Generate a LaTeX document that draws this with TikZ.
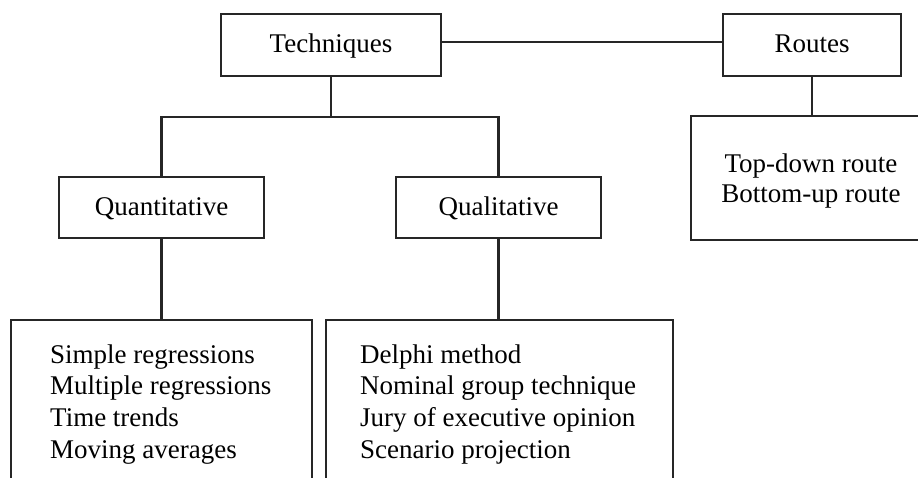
\documentclass[tikz,border=0pt]{standalone}
\usepackage{fontspec}
\setmainfont{Liberation Serif}
\begin{document}
\begin{tikzpicture}[x=1pt,y=-1pt,
  frame/.style={draw=black!85, line width=2.2pt, rectangle, inner sep=0pt},
  link/.style={draw=black!85, line width=2.2pt},
  lbl/.style={font=\fontsize{27}{32}\selectfont, inner sep=0pt, text=black}]
\useasboundingbox (0,0) rectangle (918,478);
\clip (0,0) rectangle (918,478);

% boxes
\node[frame, minimum width=220pt, minimum height=62pt] (tech) at (331,45) {};
\node[frame, minimum width=178pt, minimum height=62pt] (routes) at (812,45) {};
\node[frame, minimum width=205pt, minimum height=61pt] (quant) at (161.5,207.5) {};
\node[frame, minimum width=205pt, minimum height=61pt] (qual) at (498.5,207.5) {};
\node[frame, minimum width=249pt, minimum height=124pt] (rlist) at (815.5,178) {};
\node[frame, minimum width=301pt, minimum height=200pt] (qnlist) at (161.5,420) {};
\node[frame, minimum width=347pt, minimum height=200pt] (qllist) at (499.5,420) {};

% titles
\node[lbl, anchor=base] (ttech) at (331,53) {Techniques};
\node[lbl, anchor=base] (troutes) at (812,53) {Routes};
\node[lbl, anchor=base] (tquant) at (161.5,216) {Quantitative};
\node[lbl, anchor=base] (tqual) at (498.5,216) {Qualitative};

% route list
\node[lbl, anchor=base] (r1) at (811,173) {Top-down route};
\node[lbl, anchor=base] (r2) at (811,202.5) {Bottom-up route};

% quantitative list
\node[lbl, anchor=base west] (q1) at (50,363) {Simple regressions};
\node[lbl, anchor=base west] (q2) at (50,394.7) {Multiple regressions};
\node[lbl, anchor=base west] (q3) at (50,426.3) {Time trends};
\node[lbl, anchor=base west] (q4) at (50,458) {Moving averages};

% qualitative list
\node[lbl, anchor=base west] (l1) at (360,363) {Delphi method};
\node[lbl, anchor=base west] (l2) at (360,394.7) {Nominal group technique};
\node[lbl, anchor=base west] (l3) at (360,426.3) {Jury of executive opinion};
\node[lbl, anchor=base west] (l4) at (360,458) {Scenario projection};

% connectors
\coordinate (split) at ([yshift=-40pt]tech.south);
\draw[link] ([yshift=3pt]tech.east) -- ([yshift=3pt]routes.west);
\draw[link] (tech.south) -- (split);
\draw[link] (split) -| (quant.north);
\draw[link] (split) -| (qual.north);
\draw[link] (quant.south) -- (quant.south |- qnlist.north);
\draw[link] (qual.south) -- (qual.south |- qllist.north);
\draw[link] (routes.south) -- (routes.south |- rlist.north);
\end{tikzpicture}
\end{document}
